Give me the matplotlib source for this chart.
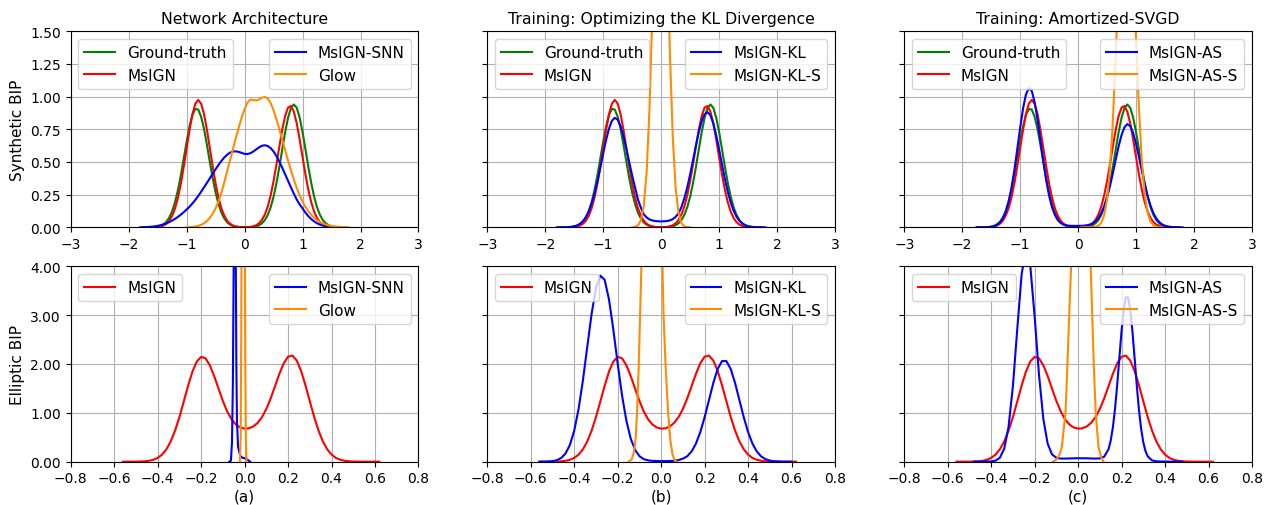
import numpy as np
import matplotlib
matplotlib.use("Agg")
import matplotlib.pyplot as plt
from matplotlib.ticker import FormatStrFormatter

# sampling positions of the density curves
x_top = np.round(np.arange(-1.8, 1.801, 0.05), 2)   # 73 points
x_bot = np.round(np.arange(-0.56, 0.621, 0.02), 2)  # 60 points

# ---- synthetic BIP (top row) ----
gt_top = [0, 0, 0.0002, 0.0005, 0.001, 0.0025, 0.0056, 0.0116, 0.0228, 0.0424,
          0.0743, 0.123, 0.193, 0.285, 0.398, 0.526, 0.656, 0.773, 0.861, 0.906,
          0.901, 0.846, 0.752, 0.631, 0.50, 0.374, 0.265, 0.177, 0.112, 0.067,
          0.038, 0.020, 0.010, 0.005, 0.0025, 0.0016, 0.0007, 0.0008, 0.0016, 0.0037,
          0.0078, 0.016, 0.031, 0.055, 0.095, 0.153, 0.234, 0.339, 0.462, 0.597,
          0.729, 0.839, 0.914, 0.94, 0.914, 0.839, 0.729, 0.597, 0.462, 0.339,
          0.234, 0.153, 0.095, 0.055, 0.031, 0.016, 0.0078, 0.0037, 0.0016, 0.0007,
          0.0003, 0, 0]
msign_top = [0, 0, 0, 0.0002, 0.0005, 0.0012, 0.0029, 0.0064, 0.0135, 0.027,
             0.050, 0.088, 0.145, 0.227, 0.334, 0.464, 0.606, 0.746, 0.866, 0.946,
             0.975, 0.946, 0.866, 0.746, 0.606, 0.464, 0.334, 0.227, 0.145, 0.088,
             0.050, 0.027, 0.0135, 0.0064, 0.0029, 0.0012, 0.0011, 0.0017, 0.0035, 0.0077,
             0.016, 0.031, 0.057, 0.098, 0.159, 0.245, 0.354, 0.482, 0.619, 0.749,
             0.853, 0.917, 0.928, 0.884, 0.795, 0.673, 0.537, 0.403, 0.286, 0.191,
             0.120, 0.071, 0.040, 0.021, 0.0103, 0.0048, 0.0021, 0.0009, 0.0004, 0.0002,
             0, 0, 0]
snn_top = [0.0001, 0.001, 0.002, 0.003, 0.005, 0.007, 0.011, 0.016, 0.022, 0.030,
           0.040, 0.052, 0.065, 0.080, 0.097, 0.116, 0.136, 0.158, 0.183, 0.21,
           0.24, 0.272, 0.306, 0.34, 0.375, 0.41, 0.445, 0.478, 0.508, 0.535,
           0.556, 0.572, 0.58, 0.581, 0.577, 0.569, 0.562, 0.561, 0.567, 0.58,
           0.596, 0.612, 0.624, 0.628, 0.622, 0.606, 0.58, 0.545, 0.502, 0.455,
           0.405, 0.355, 0.305, 0.257, 0.212, 0.175, 0.145, 0.112, 0.085, 0.063,
           0.045, 0.031, 0.021, 0.013, 0.008, 0.004, 0.002, 0.001, 0.0001, 0,
           0, 0, 0]
glow_top = [0, 0, 0, 0, 0, 0, 0, 0, 0, 0,
            0, 0, 0, 0, 0, 0, 0, 0.001, 0.003, 0.006,
            0.011, 0.019, 0.031, 0.048, 0.072, 0.104, 0.145, 0.198, 0.265, 0.345,
            0.43, 0.515, 0.60, 0.685, 0.765, 0.84, 0.905, 0.955, 0.977, 0.975,
            0.970, 0.978, 0.993, 0.997, 0.985, 0.95, 0.895, 0.825, 0.75, 0.67,
            0.59, 0.51, 0.435, 0.365, 0.30, 0.245, 0.197, 0.156, 0.122, 0.094,
            0.072, 0.054, 0.04, 0.029, 0.021, 0.015, 0.01, 0.007, 0.005, 0.003,
            0.002, 0.001, 0]
kl_top = [0, 0.0001, 0.0004, 0.0009, 0.0019, 0.004, 0.008, 0.0151, 0.0274, 0.0471,
          0.0773, 0.121, 0.181, 0.258, 0.351, 0.456, 0.566, 0.669, 0.756, 0.815,
          0.838, 0.824, 0.774, 0.695, 0.599, 0.496, 0.396, 0.303, 0.212, 0.150,
          0.10, 0.075, 0.060, 0.052, 0.048, 0.046, 0.045, 0.046, 0.048, 0.053,
          0.062, 0.080, 0.108, 0.155, 0.222, 0.305, 0.405, 0.515, 0.626, 0.730,
          0.813, 0.866, 0.881, 0.857, 0.795, 0.704, 0.596, 0.480, 0.369, 0.272,
          0.190, 0.127, 0.0813, 0.0496, 0.0288, 0.0159, 0.0084, 0.0042, 0.002, 0.001,
          0.0004, 0.0001, 0]
kls_top = [0, 0, 0, 0, 0, 0, 0, 0, 0, 0,
           0, 0, 0, 0, 0, 0, 0, 0, 0, 0,
           0, 0, 0, 0, 0, 0, 0, 0.0034, 0.0145, 0.053,
           0.165, 0.427, 0.925, 1.672, 2.527, 3.191, 3.368, 2.97, 2.189, 1.348,
           0.694, 0.298, 0.107, 0.032, 0.008, 0.0017, 0, 0, 0, 0,
           0, 0, 0, 0, 0, 0, 0, 0, 0, 0,
           0, 0, 0, 0, 0, 0, 0, 0, 0, 0,
           0, 0, 0]
as_top = [0, 0, 0.0001, 0.0002, 0.0005, 0.0014, 0.0035, 0.008, 0.017, 0.035,
          0.066, 0.117, 0.194, 0.301, 0.438, 0.597, 0.761, 0.909, 1.017, 1.065,
          1.044, 0.958, 0.825, 0.665, 0.504, 0.359, 0.241, 0.153, 0.094, 0.055,
          0.033, 0.021, 0.015, 0.012, 0.011, 0.011, 0.011, 0.011, 0.0125, 0.0154,
          0.0206, 0.030, 0.046, 0.071, 0.1085, 0.161, 0.230, 0.316, 0.415, 0.520,
          0.621, 0.707, 0.766, 0.79, 0.774, 0.722, 0.639, 0.539, 0.432, 0.329,
          0.239, 0.165, 0.108, 0.067, 0.040, 0.0225, 0.012, 0.0062, 0.003, 0.0013,
          0.0006, 0.0003, 0.0001]
ass_top = [0, 0, 0, 0, 0, 0, 0, 0, 0, 0,
           0, 0, 0, 0, 0, 0, 0, 0, 0, 0,
           0, 0, 0, 0, 0, 0, 0, 0, 0, 0,
           0, 0, 0, 0, 0, 0, 0, 0, 0.001, 0.001,
           0.001, 0.0015, 0.0037, 0.012, 0.035, 0.093, 0.215, 0.444, 0.815, 1.326,
           1.917, 2.461, 2.805, 2.839, 2.551, 2.035, 1.442, 0.907, 0.506, 0.251,
           0.111, 0.043, 0.015, 0.0046, 0.0011, 0, 0, 0, 0, 0,
           0, 0, 0]

# ---- elliptic BIP (bottom row) ----
msign_bot = [0.0001, 0.0002, 0.0004, 0.0013, 0.0034, 0.008, 0.018, 0.039, 0.078, 0.144,
             0.253, 0.414, 0.635, 0.913, 1.231, 1.555, 1.844, 2.051, 2.146, 2.116,
             1.974, 1.752, 1.495, 1.243, 1.028, 0.867, 0.76, 0.699, 0.676, 0.684,
             0.722, 0.795, 0.912, 1.079, 1.296, 1.546, 1.799, 2.014, 2.149, 2.172,
             2.07, 1.857, 1.565, 1.237, 0.918, 0.638, 0.416, 0.254, 0.146, 0.078,
             0.039, 0.019, 0.008, 0.0035, 0.0013, 0.0004, 0.0002, 0.0001, 0.0001, 0]
kl_bot = [0.0004, 0.0011, 0.0038, 0.0115, 0.031, 0.075, 0.168, 0.342, 0.636, 1.078,
          1.667, 2.352, 3.028, 3.556, 3.809, 3.723, 3.319, 2.700, 2.003, 1.356,
          0.837, 0.471, 0.242, 0.113, 0.052, 0.027, 0.017, 0.013, 0.012, 0.012,
          0.014, 0.019, 0.033, 0.062, 0.112, 0.209, 0.371, 0.605, 0.910, 1.262,
          1.612, 1.898, 2.059, 2.059, 1.898, 1.612, 1.262, 0.910, 0.605, 0.371,
          0.209, 0.109, 0.052, 0.023, 0.0094, 0.0035, 0.0012, 0.0004, 0, 0]
as_bot_x = [-0.48, -0.46, -0.44, -0.42, -0.40, -0.38, -0.36, -0.34, -0.32, -0.30,
            -0.28, -0.26, -0.24, -0.22, -0.20, -0.18, -0.16, -0.14, -0.12, -0.10,
            -0.08, -0.06, -0.04, -0.02, 0.00, 0.02, 0.04, 0.06, 0.08, 0.10,
            0.12, 0.14, 0.15, 0.16, 0.17, 0.18, 0.19, 0.20, 0.21, 0.22,
            0.23, 0.24, 0.25, 0.26, 0.27, 0.28, 0.29, 0.30, 0.31, 0.32,
            0.34, 0.36, 0.38, 0.40, 0.42, 0.44, 0.46, 0.48]
as_bot = [0.0003, 0.0005, 0.0008, 0.0014, 0.005, 0.021, 0.081, 0.266, 0.712, 1.546,
          2.711, 3.83, 4.364, 4.007, 2.970, 1.782, 0.876, 0.367, 0.149, 0.079,
          0.064, 0.064, 0.066, 0.069, 0.070, 0.070, 0.069, 0.066, 0.064, 0.067,
          0.102, 0.256, 0.43, 0.703, 1.089, 1.58, 2.135, 2.679, 3.119, 3.364,
          3.362, 3.112, 2.668, 2.119, 1.559, 1.063, 0.672, 0.396, 0.218, 0.111,
          0.027, 0.0076, 0.0043, 0.0024, 0.0017, 0.001, 0.0005, 0.0003]
# very narrow (collapsed) densities
snn_bot_x = [-0.07, -0.063, -0.058, -0.054, -0.05, -0.047, -0.045, -0.043, -0.041,
             -0.038, -0.035, -0.03, -0.02, -0.01, 0.0, 0.01, 0.02, 0.026]
snn_bot = [0, 0.02, 0.4, 1.6, 4.2, 7.0, 8.0, 7.0, 4.5, 2.0, 0.8, 0.3, 0.12, 0.08,
           0.07, 0.05, 0.02, 0]
glow_bot_x = [-0.022, -0.018, -0.0155, -0.0145, -0.012, -0.006, 0.0, 0.0015,
              0.003, 0.006, 0.009]
glow_bot = [0, 0.5, 2.5, 4.0, 8.0, 11.0, 8.0, 4.0, 2.0, 0.4, 0]
kls_bot_x = [-0.15, -0.135, -0.125, -0.117, -0.111, -0.103, -0.097, -0.091, -0.08,
             -0.043, -0.005, 0.006, 0.011, 0.02, 0.032, 0.042, 0.052, 0.062, 0.072]
kls_bot = [0, 0.05, 0.2, 0.5, 1.0, 2.0, 3.0, 4.0, 6.0, 10.0, 6.0, 4.0, 3.0, 2.0,
           1.0, 0.45, 0.15, 0.03, 0]
ass_bot_x = [-0.115, -0.098, -0.085, -0.075, -0.058, -0.049, -0.041, -0.032, -0.02,
             0.013, 0.045, 0.058, 0.065, 0.072, 0.081, 0.094, 0.105, 0.117]
ass_bot = [0, 0.05, 0.15, 0.3, 1.0, 2.0, 3.0, 4.0, 5.5, 7.0, 5.5, 4.0, 3.0, 2.0,
           1.0, 0.3, 0.1, 0]

titles = ["Network Architecture", "Training: Optimizing the KL Divergence",
          "Training: Amortized-SVGD"]
panel_labels = ["(a)", "(b)", "(c)"]

GREEN, RED, BLUE, ORANGE = "green", "red", "blue", "darkorange"


def trim(x, y):
    # keep one zero on each side, drop the rest of the flat baseline
    x = np.asarray(x, float)
    y = np.asarray(y, float)
    nz = np.nonzero(y)[0]
    a = max(nz[0] - 1, 0)
    b = min(nz[-1] + 2, len(y))
    return x[a:b], y[a:b]


def draw(ax, curves, split):
    lines = []
    for x, y, c, lab in curves:
        xx, yy = trim(x, y)
        ln, = ax.plot(xx, yy, color=c, lw=1.5, label=lab)
        lines.append(ln)
    leg1 = ax.legend(handles=lines[:split], loc="upper left", fontsize=11)
    ax.add_artist(leg1)
    ax.legend(handles=lines[split:], loc="upper right", fontsize=11)


plt.rcParams["font.family"] = "DejaVu Sans"
plt.rcParams["font.size"] = 10

fig = plt.figure(figsize=(12.7, 5.06), dpi=100)
lefts = [0.0557, 0.3837, 0.7120]
w = 0.2738

top_curves = [
    [(x_top, gt_top, GREEN, "Ground-truth"), (x_top, msign_top, RED, "MsIGN"),
     (x_top, snn_top, BLUE, "MsIGN-SNN"), (x_top, glow_top, ORANGE, "Glow")],
    [(x_top, gt_top, GREEN, "Ground-truth"), (x_top, msign_top, RED, "MsIGN"),
     (x_top, kl_top, BLUE, "MsIGN-KL"), (x_top, kls_top, ORANGE, "MsIGN-KL-S")],
    [(x_top, gt_top, GREEN, "Ground-truth"), (x_top, msign_top, RED, "MsIGN"),
     (x_top, as_top, BLUE, "MsIGN-AS"), (x_top, ass_top, ORANGE, "MsIGN-AS-S")],
]
bot_curves = [
    [(x_bot, msign_bot, RED, "MsIGN"), (snn_bot_x, snn_bot, BLUE, "MsIGN-SNN"),
     (glow_bot_x, glow_bot, ORANGE, "Glow")],
    [(x_bot, msign_bot, RED, "MsIGN"), (x_bot, kl_bot, BLUE, "MsIGN-KL"),
     (kls_bot_x, kls_bot, ORANGE, "MsIGN-KL-S")],
    [(x_bot, msign_bot, RED, "MsIGN"), (as_bot_x, as_bot, BLUE, "MsIGN-AS"),
     (ass_bot_x, ass_bot, ORANGE, "MsIGN-AS-S")],
]

for i in range(3):
    ax = fig.add_axes([lefts[i], 0.5488, w, 0.3874])
    draw(ax, top_curves[i], 2)
    ax.set_xlim(-3, 3)
    ax.set_ylim(0, 1.5)
    ax.set_xticks(np.arange(-3, 4, 1))
    ax.set_yticks(np.arange(0, 1.51, 0.25))
    ax.yaxis.set_major_formatter(FormatStrFormatter("%.2f"))
    ax.grid(True, color="#b0b0b0", lw=0.8)
    ax.set_title(titles[i], fontsize=11.3)
    if i == 0:
        ax.set_ylabel("Synthetic BIP", fontsize=11)
    else:
        ax.tick_params(labelleft=False)

    ax = fig.add_axes([lefts[i], 0.0856, w, 0.3862])
    draw(ax, bot_curves[i], 1)
    ax.set_xlim(-0.8, 0.8)
    ax.set_ylim(0, 4)
    ax.set_xticks(np.round(np.arange(-0.8, 0.81, 0.2), 1))
    ax.set_yticks(np.arange(0, 4.01, 1))
    ax.yaxis.set_major_formatter(FormatStrFormatter("%.2f"))
    ax.grid(True, color="#b0b0b0", lw=0.8)
    ax.set_xlabel(panel_labels[i], fontsize=11, labelpad=2)
    if i == 0:
        ax.set_ylabel("Elliptic BIP", fontsize=11)
    else:
        ax.tick_params(labelleft=False)

fig.savefig("out.png", dpi=100)
